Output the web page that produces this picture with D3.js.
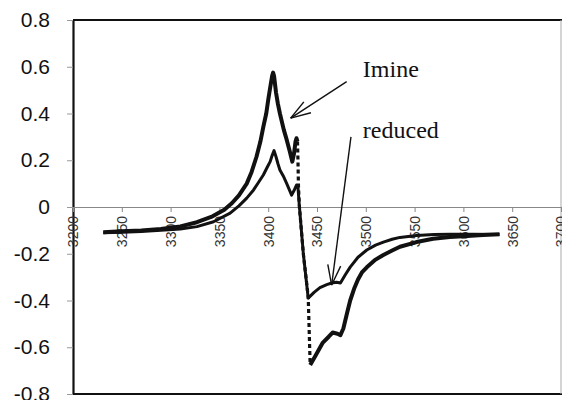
<!DOCTYPE html>
<html><head><meta charset="utf-8">
<script src="https://cdn.jsdelivr.net/npm/d3@7"></script>
<style>body{margin:0;background:#fff}</style>
</head><body>
<svg id="c" width="562" height="400"></svg>
<script>
const xTicks = [3200,3250,3300,3350,3400,3450,3500,3550,3600,3650,3700];
const xTickLabels = ["3200","3250","3300","3350","3400","3450","3500","3550","3600","3650","3700"];
const yTicks = [-0.8,-0.6,-0.4,-0.2,0,0.2,0.4,0.6,0.8];
const yTickLabels = ["-0.8","-0.6","-0.4","-0.2","0","0.2","0.4","0.6","0.8"];

const imineX = [3231,3250,3270,3290,3310,3327,3343,3355,3363,3370,3378,3383,3388,3392,3395,3398,3400,3402,3404,3405,3406,3408,3410,3412,3416,3419,3422,3424.7,3426.5,3428,3429,3430,3430.5,3431,3432,3436,3441,3443,3448,3456,3462,3466,3471,3474,3477,3481,3484,3488,3492,3496,3501,3510,3518,3527,3535,3552,3569,3586,3604,3620,3637];
const imineY = [-0.108,-0.104,-0.100,-0.094,-0.083,-0.065,-0.040,-0.012,0.017,0.050,0.100,0.150,0.215,0.280,0.343,0.400,0.458,0.510,0.560,0.575,0.560,0.490,0.440,0.400,0.330,0.287,0.240,0.194,0.230,0.280,0.294,0.280,0.200,0.090,0.000,-0.200,-0.385,-0.676,-0.640,-0.580,-0.555,-0.537,-0.542,-0.548,-0.520,-0.450,-0.400,-0.350,-0.310,-0.280,-0.258,-0.225,-0.205,-0.186,-0.170,-0.150,-0.136,-0.128,-0.124,-0.120,-0.117];

const reducedX = [3231,3250,3270,3290,3310,3327,3344,3361,3370,3378,3385,3390,3395,3399,3402,3404,3406,3408,3410,3412,3416,3419,3424,3427,3429,3430.5,3432,3436,3441,3447,3453,3460,3465,3470,3474,3479,3484,3492,3501,3510,3518,3527,3535,3552,3570,3586,3610,3637];
const reducedY = [-0.110,-0.108,-0.105,-0.100,-0.094,-0.084,-0.063,-0.026,0.005,0.038,0.073,0.105,0.137,0.170,0.194,0.220,0.241,0.215,0.185,0.158,0.128,0.100,0.051,0.075,0.094,0.085,0.000,-0.200,-0.390,-0.365,-0.345,-0.332,-0.325,-0.322,-0.325,-0.290,-0.257,-0.215,-0.184,-0.163,-0.150,-0.138,-0.130,-0.122,-0.118,-0.117,-0.117,-0.118];

const labelNames = ["Imine","reduced"];
const labelPos = [[3497,0.556],[3497,0.295]];
const arrowTails = [[3480.4,0.536],[3484.8,0.300]];
const arrowTips = [[3423,0.38],[3465,-0.334]];
const dropRange = [3430,3443];

const svg = d3.select("#c");
const L = 73, R = 561, T = 20, B = 394;
const x = d3.scaleLinear().domain([3200,3700]).range([L,R]);
const y = d3.scaleLinear().domain([-0.8,0.8]).range([B,T]);

// frame
svg.append("line").attr("x1",L).attr("x2",562).attr("y1",T).attr("y2",T).attr("stroke","#111").attr("stroke-width",2);
svg.append("line").attr("x1",L).attr("x2",562).attr("y1",B).attr("y2",B).attr("stroke","#111").attr("stroke-width",2);
svg.append("line").attr("x1",R).attr("x2",R).attr("y1",T).attr("y2",B).attr("stroke","#aaa").attr("stroke-width",1);

// y axis
const ya = svg.append("g").attr("transform",`translate(${L},0)`)
  .call(d3.axisLeft(y).tickValues(yTicks).tickFormat((d,i)=>yTickLabels[i]).tickSize(6).tickSizeOuter(0).tickPadding(17));
ya.select(".domain").attr("stroke","#111").attr("stroke-width",2.2);
ya.selectAll(".tick line").attr("stroke","#999");
ya.selectAll(".tick text").attr("font-family","Liberation Sans, Arial, sans-serif").attr("font-size",21).attr("fill","#111");

// x axis at zero
const xa = svg.append("g").attr("transform",`translate(0,${y(0)})`)
  .call(d3.axisBottom(x).tickValues(xTicks).tickFormat((d,i)=>xTickLabels[i]).tickSize(5).tickSizeOuter(0));
xa.select(".domain").attr("stroke","#888").attr("stroke-width",1);
xa.selectAll(".tick line").attr("stroke","#888");
xa.selectAll(".tick text").attr("font-family","Liberation Sans, Arial, sans-serif").attr("font-size",14).attr("fill","#333")
  .attr("transform","rotate(-90)").attr("text-anchor","end").attr("x",-9).attr("y",0).attr("dy","0.35em");

// curves
const line = d3.line().x(d=>x(d[0])).y(d=>y(d[1]));
const imine = imineX.map((v,i)=>[v,imineY[i]]);
const reduced = reducedX.map((v,i)=>[v,reducedY[i]]);
const imA = imine.filter(d=>d[0]<=dropRange[0]);
const imB = imine.filter(d=>d[0]>=dropRange[0] && d[0]<=dropRange[1]);
const imC = imine.filter(d=>d[0]>=dropRange[1]);

svg.append("path").attr("d",line(reduced)).attr("fill","none").attr("stroke","#111").attr("stroke-width",3).attr("stroke-linejoin","round");
svg.append("path").attr("d",line(imA)).attr("fill","none").attr("stroke","#111").attr("stroke-width",4).attr("stroke-linejoin","round");
svg.append("path").attr("d",line(imB)).attr("fill","none").attr("stroke","#111").attr("stroke-width",3.2).attr("stroke-dasharray","4,3");
svg.append("path").attr("d",line(imC)).attr("fill","none").attr("stroke","#111").attr("stroke-width",4).attr("stroke-linejoin","round");

// annotations
labelNames.forEach((t,i)=>{
  svg.append("text").attr("x",x(labelPos[i][0])).attr("y",y(labelPos[i][1]))
    .attr("font-family","Liberation Serif, Times New Roman, serif").attr("font-size",24).attr("fill","#111").text(t);
  const tx=x(arrowTips[i][0]), ty=y(arrowTips[i][1]);
  const sx=x(arrowTails[i][0]), sy=y(arrowTails[i][1]);
  const g = svg.append("g").attr("stroke","#111").attr("stroke-width",1.4).attr("fill","none");
  g.append("line").attr("x1",sx).attr("y1",sy).attr("x2",tx).attr("y2",ty);
  const ang = Math.atan2(sy-ty, sx-tx), len=21, spread=18*Math.PI/180;
  [ang-spread, ang+spread].forEach(a=>{
    g.append("line").attr("x1",tx).attr("y1",ty).attr("x2",tx+len*Math.cos(a)).attr("y2",ty+len*Math.sin(a));
  });
});
</script>
</body></html>
